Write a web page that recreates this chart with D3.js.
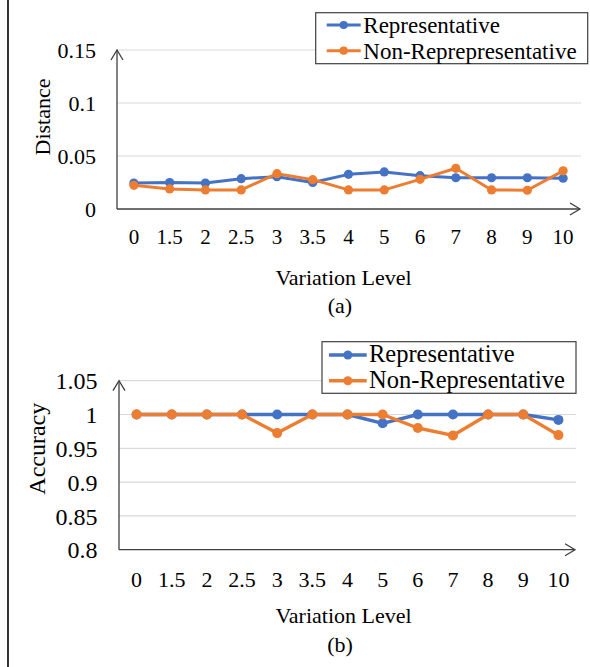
<!DOCTYPE html>
<html>
<head>
<meta charset="utf-8">
<script src="https://cdn.jsdelivr.net/npm/d3@7"></script>
<style>
  html, body { margin: 0; padding: 0; background: #fff; }
  svg { display: block; }
</style>
</head>
<body>
<svg id="chart" width="590" height="667" font-family="Liberation Serif"></svg>
<script>
// ---- data ----
const categories = ["0", "1.5", "2", "2.5", "3", "3.5", "4", "5", "6", "7", "8", "9", "10"];
const seriesNames = ["Representative", "Non-Reprepresentative"];
const seriesNamesB = ["Representative", "Non-Representative"];
const distanceRep    = [0.0245, 0.025, 0.0245, 0.0286, 0.0305, 0.025, 0.0327, 0.035, 0.0314, 0.0295, 0.0295, 0.0295, 0.029];
const distanceNonRep = [0.0223, 0.0189, 0.018, 0.018, 0.0333, 0.0277, 0.018, 0.018, 0.028, 0.0384, 0.018, 0.0177, 0.036];
const accuracyRep    = [1, 1, 1, 1, 1, 1, 1, 0.987, 1, 1, 1, 1, 0.992];
const accuracyNonRep = [1, 1, 1, 1, 0.9725, 1, 1, 1, 0.980, 0.969, 1, 1, 0.9695];
const distanceTicks = [0, 0.05, 0.1, 0.15];
const distanceTickLabels = ["0", "0.05", "0.1", "0.15"];
const accuracyTicks = [0.8, 0.85, 0.9, 0.95, 1, 1.05];
const accuracyTickLabels = ["0.8", "0.85", "0.9", "0.95", "1", "1.05"];
const colors = ["#4472C4", "#ED7D31"];

const FONT = "Liberation Serif";
const svg = d3.select("#chart");

// left frame line
svg.append("line").attr("x1", 8).attr("x2", 8).attr("y1", 0).attr("y2", 667)
  .attr("stroke", "#000").attr("stroke-width", 1.6);

function drawPanel(p) {
  const x = d3.scaleBand().domain(categories).range(p.xRange).paddingInner(0).paddingOuter(0);
  const y = d3.scaleLinear().domain(p.yDomain).range(p.yRange);
  const g = svg.append("g").attr("font-family", FONT);
  const x0 = p.axisX, xEnd = p.xRange[1];
  const yBase = y(p.yDomain[0]), yTop = y(p.yDomain[1]);

  // gridlines
  g.append("g").selectAll("line").data(p.ticks.slice(1)).join("line")
    .attr("x1", x0).attr("x2", xEnd)
    .attr("y1", d => y(d)).attr("y2", d => y(d))
    .attr("stroke", "#d9d9d9").attr("stroke-width", 1.2);

  // y axis labels
  const yAxis = d3.axisLeft(y).tickValues(p.ticks)
    .tickFormat((d, i) => p.tickLabels[i]).tickSize(0).tickPadding(0);
  const ya = g.append("g").attr("transform", `translate(${p.yLabelX},0)`).call(yAxis);
  ya.attr("font-family", FONT);
  ya.select(".domain").remove();
  ya.selectAll("text").attr("font-family", FONT).attr("font-size", p.yTickFont)
    .attr("fill", "#000").attr("dy", "0.34em");

  // x axis labels
  const xAxis = d3.axisBottom(x).tickSize(0).tickPadding(0);
  const xa = g.append("g").attr("transform", `translate(0,${p.xLabelY})`).call(xAxis);
  xa.attr("font-family", FONT);
  xa.select(".domain").remove();
  xa.selectAll("text").attr("font-family", FONT).attr("font-size", p.xTickFont)
    .attr("fill", "#000").attr("dy", 0);

  // axes lines with arrows
  const ac = "#404040";
  g.append("line").attr("x1", x0).attr("x2", x0).attr("y1", yBase).attr("y2", yTop)
    .attr("stroke", ac).attr("stroke-width", 1.3);
  g.append("path").attr("d", `M${x0 - 6},${yTop + 10}L${x0},${yTop}L${x0 + 6},${yTop + 10}`)
    .attr("fill", "none").attr("stroke", ac).attr("stroke-width", 1.3);
  g.append("line").attr("x1", x0).attr("x2", p.arrowX).attr("y1", yBase).attr("y2", yBase)
    .attr("stroke", ac).attr("stroke-width", 1.3);
  g.append("path").attr("d", `M${p.arrowX - 10},${yBase - 6}L${p.arrowX},${yBase}L${p.arrowX - 10},${yBase + 6}`)
    .attr("fill", "none").attr("stroke", ac).attr("stroke-width", 1.3);

  // series
  const line = d3.line().x((d, i) => x(categories[i]) + x.bandwidth() / 2).y(d => y(d));
  p.series.forEach((s, k) => {
    g.append("path").datum(s).attr("d", line).attr("fill", "none")
      .attr("stroke", colors[k]).attr("stroke-width", p.lineW).attr("stroke-linejoin", "round");
    g.append("g").selectAll("circle").data(s).join("circle")
      .attr("cx", (d, i) => x(categories[i]) + x.bandwidth() / 2)
      .attr("cy", d => y(d)).attr("r", p.markR).attr("fill", colors[k]);
  });

  // axis titles
  g.append("text").attr("transform", `translate(${p.yTitleX},${p.yTitleY}) rotate(-90)`)
    .attr("text-anchor", "middle").attr("font-family", FONT).attr("font-size", p.yTitleFont)
    .attr("fill", "#000").text(p.yTitle);
  g.append("text").attr("x", 343.5).attr("y", p.xTitleY).attr("text-anchor", "middle")
    .attr("font-family", FONT).attr("font-size", 22).attr("fill", "#000").text("Variation Level");
  g.append("text").attr("x", 340).attr("y", p.capY).attr("text-anchor", "middle")
    .attr("font-family", FONT).attr("font-size", 22).attr("fill", "#000").text(p.caption);

  // legend
  const L = p.legend;
  g.append("rect").attr("x", L.x).attr("y", L.y).attr("width", L.w).attr("height", L.h)
    .attr("fill", "#fff").attr("stroke", "#404040").attr("stroke-width", 1.2);
  p.names.forEach((n, k) => {
    const ry = L.rows[k];
    g.append("line").attr("x1", L.sx1).attr("x2", L.sx2).attr("y1", ry).attr("y2", ry)
      .attr("stroke", colors[k]).attr("stroke-width", p.lineW);
    g.append("circle").attr("cx", (L.sx1 + L.sx2) / 2).attr("cy", ry).attr("r", p.markR - 0.5)
      .attr("fill", colors[k]);
    g.append("text").attr("x", L.tx).attr("y", L.base[k]).attr("font-family", FONT)
      .attr("font-size", L.font).attr("fill", "#000").text(n);
  });
}

drawPanel({
  xRange: [116, 581], yDomain: [0, 0.15], yRange: [209, 50],
  ticks: distanceTicks, tickLabels: distanceTickLabels,
  axisX: 117, arrowX: 580, yLabelX: 96, xLabelY: 244,
  yTickFont: 22, xTickFont: 21,
  series: [distanceRep, distanceNonRep], names: seriesNames,
  lineW: 3, markR: 4.6,
  yTitle: "Distance", yTitleX: 50, yTitleY: 117, yTitleFont: 22,
  xTitleY: 285, capY: 312.5, caption: "(a)",
  legend: { x: 315.7, y: 12.7, w: 272, h: 51, rows: [25, 50.7], base: [33.3, 58.5],
    sx1: 326.7, sx2: 360.7, tx: 363.3, font: 23 }
});

drawPanel({
  xRange: [119, 576], yDomain: [0.8, 1.05], yRange: [549.7, 380.7],
  ticks: accuracyTicks, tickLabels: accuracyTickLabels,
  axisX: 119, arrowX: 575, yLabelX: 97.5, xLabelY: 586.5,
  yTickFont: 24, xTickFont: 22,
  series: [accuracyRep, accuracyNonRep], names: seriesNamesB,
  lineW: 3.4, markR: 5,
  yTitle: "Accuracy", yTitleX: 45.3, yTitleY: 448.7, yTitleFont: 24,
  xTitleY: 623, capY: 652, caption: "(b)",
  legend: { x: 322, y: 341.7, w: 254, h: 51.6, rows: [355, 380.7], base: [362.3, 388.3],
    sx1: 329, sx2: 366.7, tx: 369, font: 24.5 }
});
</script>
</body>
</html>
